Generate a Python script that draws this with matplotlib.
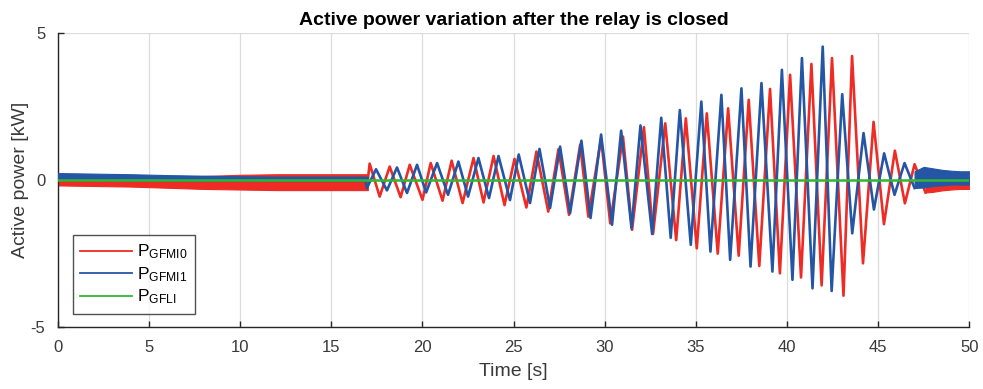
import matplotlib
matplotlib.use("Agg")
import matplotlib.pyplot as plt

# ---------------- data ----------------
# quiet period before the oscillation: noise band envelopes
t_pre = [0, 2, 4, 6, 8, 10, 12, 14, 16, 17]
red_pre_hi = [0.06, 0.06, 0.08, 0.10, 0.14, 0.18, 0.20, 0.20, 0.20, 0.20]
red_pre_lo = [-0.18, -0.20, -0.22, -0.26, -0.30, -0.32, -0.34, -0.34, -0.34, -0.34]
blue_pre_hi = [0.24, 0.22, 0.20, 0.17, 0.15, 0.13, 0.12, 0.12, 0.12, 0.12]
blue_pre_lo = [0.00, 0.00, -0.02, -0.03, -0.03, -0.03, -0.03, -0.03, -0.03, -0.03]

# oscillation: successive peaks / troughs  P_GFMI0 (red)
t_red = [17.0, 17.1, 17.65, 18.2, 18.8, 19.3, 20.0, 20.45, 21.1, 21.6, 22.2, 22.8,
         23.35, 23.9, 24.5, 25.05, 25.7, 26.25, 26.9, 27.46, 28.04, 28.65, 29.1,
         29.8, 30.3, 31.0, 31.5, 32.15, 32.65, 33.32, 33.92, 34.45, 35.05, 35.6,
         36.2, 36.77, 37.35, 37.9, 38.48, 39.07, 39.61, 40.17, 40.77, 41.34, 41.9,
         42.47, 43.1, 43.57, 44.17, 44.75, 45.32, 45.92, 46.47, 47.0, 47.6]
p_red = [0.0, 0.56, -0.56, 0.46, -0.58, 0.52, -0.67, 0.58, -0.70, 0.66, -0.78, 0.75,
         -0.76, 0.82, -0.85, 0.72, -0.93, 0.97, -1.07, 1.05, -1.18, 1.20, -1.24,
         1.42, -1.47, 1.48, -1.69, 1.80, -1.83, 1.93, -2.04, 2.10, -2.32, 2.27,
         -2.50, 2.44, -2.57, 2.73, -2.92, 3.10, -3.17, 3.58, -3.31, 3.95, -3.58,
         4.15, -3.93, 4.22, -2.83, 1.98, -1.50, 1.00, -0.79, 0.54, -0.42]

# oscillation: successive peaks / troughs  P_GFMI1 (blue)
t_blue = [16.85, 16.95, 17.45, 18.05, 18.6, 19.15, 19.7, 20.2, 20.8, 21.4, 21.97,
          22.5, 23.07, 23.65, 24.17, 24.8, 25.28, 25.9, 26.42, 27.0, 27.55, 28.1,
          28.72, 29.22, 29.8, 30.4, 30.9, 31.47, 31.96, 32.6, 33.1, 33.62, 34.12,
          34.72, 35.3, 35.8, 36.4, 36.88, 37.5, 38.0, 38.6, 39.2, 39.72, 40.3,
          40.82, 41.4, 41.96, 42.45, 43.03, 43.58, 44.2, 44.77, 45.33, 45.9,
          46.45, 47.0]
p_blue = [0.05, -0.27, 0.37, -0.35, 0.43, -0.44, 0.52, -0.42, 0.58, -0.50, 0.63,
          -0.56, 0.75, -0.61, 0.82, -0.68, 0.87, -0.78, 1.06, -0.95, 1.14, -1.12,
          1.34, -1.29, 1.55, -1.52, 1.68, -1.64, 1.86, -1.83, 2.12, -1.96, 2.38,
          -2.20, 2.67, -2.43, 2.90, -2.71, 3.12, -2.94, 3.30, -3.11, 3.75, -3.39,
          4.15, -3.68, 4.54, -3.77, 2.92, -1.81, 1.60, -1.00, 0.91, -0.50,
          0.58, -0.27]

# settled period at the end: noise band envelopes
t_red_post = [47.6, 48.0, 48.5, 49.0, 49.5, 50.0]
red_post_hi = [0.20, 0.20, 0.10, 0.08, 0.05, 0.02]
red_post_lo = [-0.42, -0.40, -0.35, -0.32, -0.30, -0.30]
t_blue_post = [47.0, 47.5, 48.0, 48.5, 49.0, 49.5, 50.0]
blue_post_hi = [0.30, 0.45, 0.40, 0.35, 0.32, 0.30, 0.30]
blue_post_lo = [-0.27, -0.25, -0.20, -0.18, -0.15, -0.15, -0.15]

# P_GFLI (green)
t_green = [0, 50]
p_green = [0.0, 0.0]

labels = [r'$\mathregular{P_{GFMI0}}$', r'$\mathregular{P_{GFMI1}}$', r'$\mathregular{P_{GFLI}}$']
x_ticks = [0, 5, 10, 15, 20, 25, 30, 35, 40, 45, 50]
y_ticks = [-5, 0, 5]

# ---------------- drawing ----------------
RED = '#ee2b24'
BLUE = '#2456a5'
GREEN = '#30b830'
DARK = '#262626'
TXT = '#3a3a3a'

plt.rcParams['font.family'] = ['Liberation Sans', 'DejaVu Sans']
plt.rcParams['mathtext.fontset'] = 'custom'
plt.rcParams['mathtext.rm'] = 'Liberation Sans'

fig = plt.figure(figsize=(9.83, 3.89), dpi=100)
ax = fig.add_axes([0.059, 0.159, 0.927, 0.756])

# red
ax.fill_between(t_pre, red_pre_lo, red_pre_hi, color=RED, lw=0.8, zorder=2)
ax.fill_between(t_red_post, red_post_lo, red_post_hi, color=RED, lw=0.8, zorder=2)
ax.plot(t_red, p_red, color=RED, lw=1.9, label=labels[0], zorder=2)
# blue
ax.fill_between(t_pre, blue_pre_lo, blue_pre_hi, color=BLUE, lw=0.8, zorder=3)
ax.fill_between(t_blue_post, blue_post_lo, blue_post_hi, color=BLUE, lw=0.8, zorder=3)
ax.plot(t_blue, p_blue, color=BLUE, lw=1.9, label=labels[1], zorder=3)
# green
ax.plot(t_green, p_green, color=GREEN, lw=1.8, label=labels[2], zorder=4)

ax.set_xlim(0, 50)
ax.set_ylim(-5, 5)
ax.set_xticks(x_ticks)
ax.set_yticks(y_ticks)
ax.set_yticklabels([str(v) for v in y_ticks])
ax.grid(True, color='#dcdcdc', lw=0.9, zorder=0)
ax.set_axisbelow(True)
for s in ('top', 'right'):
    ax.spines[s].set_visible(False)
for s in ('left', 'bottom'):
    ax.spines[s].set_color(DARK)
    ax.spines[s].set_linewidth(1.0)
ax.tick_params(direction='in', length=4.5, width=1.0, colors=DARK, labelsize=12,
               labelcolor=TXT, pad=9)

ax.set_title('Active power variation after the relay is closed', fontsize=14,
             fontweight='bold', color='black', pad=6)
ax.set_xlabel('Time [s]', fontsize=14, color=TXT, labelpad=6)
ax.set_ylabel('Active power [kW]', fontsize=14, color=TXT, labelpad=1)

leg = ax.legend(loc='lower left', bbox_to_anchor=(0.016, 0.044), borderaxespad=0,
                fontsize=12.5, frameon=True, fancybox=False, handlelength=2.95,
                labelspacing=0.22, borderpad=0.45, handletextpad=0.3)
leg.get_frame().set_edgecolor(DARK)
leg.get_frame().set_linewidth(1.0)
leg.set_zorder(10)
for line in leg.get_lines():
    line.set_linewidth(1.3)

fig.savefig('out.png', dpi=100)
